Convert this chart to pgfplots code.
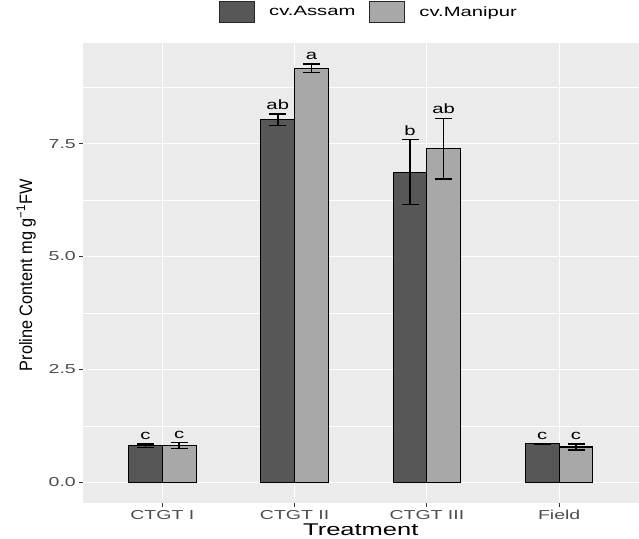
\documentclass[border=0pt]{standalone}
\usepackage{fontspec}
\setmainfont{Liberation Sans}[FakeStretch=1.5]
\newfontfamily\plainsans{Liberation Sans}
\usepackage{pgfplots}
\pgfplotsset{compat=1.18}
\definecolor{panel}{HTML}{EBEBEB}
\definecolor{darkbar}{HTML}{575757}
\definecolor{lightbar}{HTML}{A8A8A8}
\definecolor{ticklab}{HTML}{4D4D4D}
\definecolor{tickcol}{HTML}{333333}
\begin{document}
\begin{tikzpicture}
\useasboundingbox (0,0) rectangle (639bp,539bp);
\begin{axis}[
  at={(83bp,36bp)}, anchor=south west,
  scale only axis, width=555.5bp, height=460bp,
  xmin=-0.6, xmax=3.6, ymin=-0.46, ymax=9.73,
  axis lines=left, axis line style={draw=none},
  axis background/.style={fill=panel},
  xtick={0,1,2,3}, xticklabels={CTGT I, CTGT II, CTGT III, Field},
  ytick={0,2.5,5,7.5}, yticklabels={0.0,2.5,5.0,7.5},
  minor ytick={1.25,3.75,6.25,8.75},
  minor tick length=0pt,
  xmajorgrids, ymajorgrids, yminorgrids,
  major grid style={white, line width=1.1bp},
  minor grid style={white, line width=0.55bp},
  tick align=outside, major tick length=4bp,
  tick style={tickcol, line width=1.07bp},
  ticklabel style={font=\fontsize{13bp}{15bp}\selectfont, text=ticklab},
  xticklabel style={inner sep=0pt, anchor=base, yshift=-12bp},
  yticklabel style={inner sep=0pt, anchor=east, xshift=-3bp},
  /pgf/number format/assume math mode=true,
  xlabel={Treatment},
  xlabel style={at={(axis description cs:0.5,-0.0717)}, anchor=base, inner sep=0pt, font=\fontsize{17bp}{19bp}\selectfont},
  ylabel={\scalebox{1}[1.1]{\plainsans\fontsize{16.3bp}{18bp}\selectfont Proline Content mg g\textsuperscript{−1}FW}},
  ylabel style={at={(axis description cs:-0.0918,0.495)}, anchor=base, rotate=0, inner sep=0pt},
  legend columns=2,
  legend style={at={(axis description cs:0.2448,1.0674)}, anchor=west, draw=none, fill=none, inner sep=0pt,
    font=\fontsize{13.5bp}{15bp}\selectfont,
    nodes={inner sep=0pt},
    /tikz/column sep=14bp},
  legend cell align=left,
]
\addlegendimage{legend image code/.code={\draw[fill=darkbar, draw=black!85, line width=1bp] (0bp,-10.5bp) rectangle (35bp,10.5bp);}}
\addlegendentry{cv.Assam}
\addlegendimage{legend image code/.code={\draw[fill=lightbar, draw=black!85, line width=1bp] (0bp,-10.5bp) rectangle (35bp,10.5bp);}}
\addlegendentry{cv.Manipur}
\addplot[ybar, bar width=0.255, bar shift=0pt, fill=darkbar, draw=black, line width=1.1bp,
  error bars/.cd, y dir=both, y explicit,
  error bar style={black, line width=1.5bp},
  error mark options={black, line width=1.5bp, mark size=8.5bp, rotate=90}]
  coordinates {(-0.1275,0.81) +- (0,0.04) (0.8725,8.03) +- (0,0.13) (1.8725,6.87) +- (0,0.72) (2.8725,0.85) +- (0,0.005)};
\addplot[ybar, bar width=0.255, bar shift=0pt, fill=lightbar, draw=black, line width=1.1bp,
  error bars/.cd, y dir=both, y explicit,
  error bar style={black, line width=1.5bp},
  error mark options={black, line width=1.5bp, mark size=8.5bp, rotate=90}]
  coordinates {(0.1275,0.81) +- (0,0.066) (1.1275,9.17) +- (0,0.09) (2.1275,7.39) +- (0,0.67) (3.1275,0.78) +- (0,0.07)};
\addplot[draw=none, mark=none, nodes near coords, point meta=explicit symbolic,
  nodes near coords style={anchor=base, inner sep=0pt, yshift=4.5bp, text=black, font=\fontsize{13.5bp}{15bp}\selectfont}]
  table[x=x, y=y, meta=lab] {
x y lab
-0.1275 0.85 c
0.1275 0.876 c
0.8725 8.16 ab
1.1275 9.26 a
1.8725 7.59 b
2.1275 8.06 ab
2.8725 0.855 c
3.1275 0.85 c
};
\end{axis}
\end{tikzpicture}
\end{document}
